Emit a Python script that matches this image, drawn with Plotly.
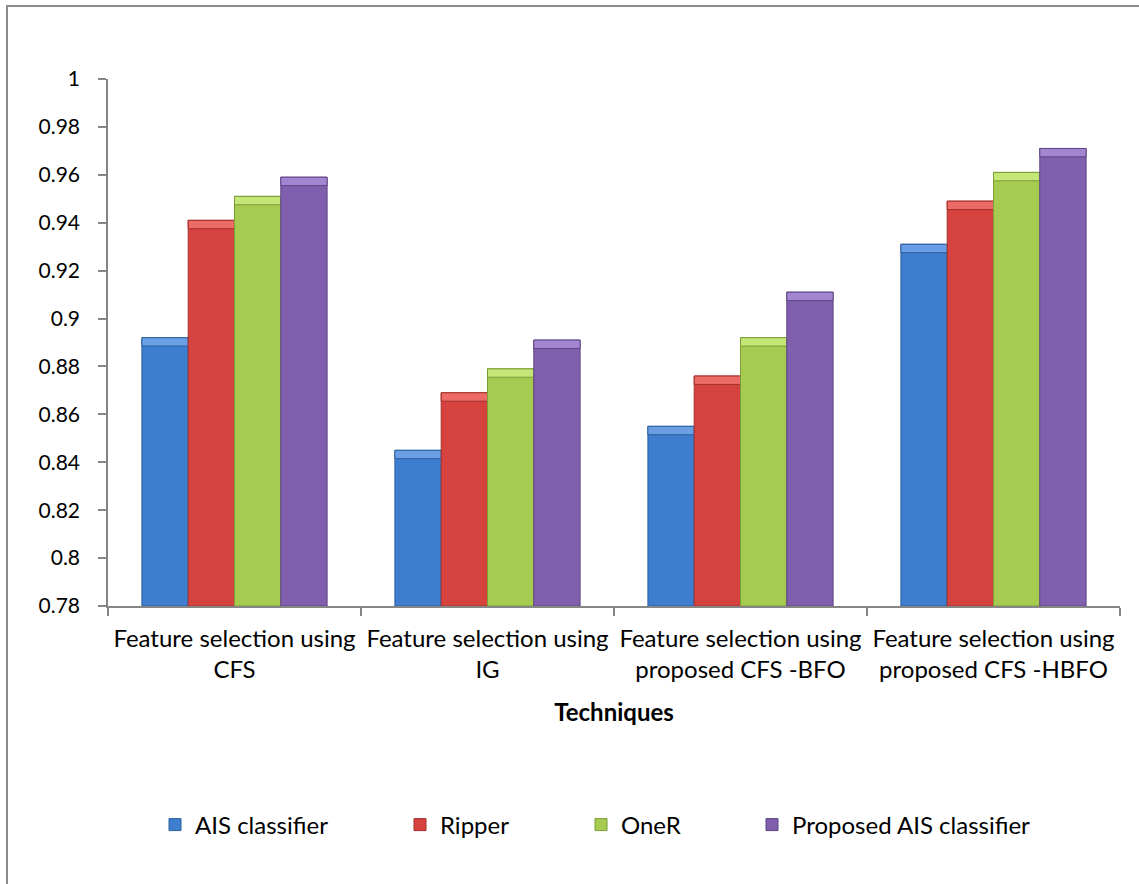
import plotly.graph_objects as go

# Categories (techniques) and accuracy per classifier
categories = [
    "Feature selection using<br>CFS",
    "Feature selection using<br>IG",
    "Feature selection using<br>proposed CFS -BFO",
    "Feature selection using<br>proposed CFS -HBFO",
]
series_names = ["AIS classifier", "Ripper", "OneR", "Proposed AIS classifier"]
ais_classifier = [0.892, 0.845, 0.855, 0.931]
ripper = [0.941, 0.869, 0.876, 0.949]
oner = [0.951, 0.879, 0.892, 0.961]
proposed_ais = [0.959, 0.891, 0.911, 0.971]
y_ticks = [0.78, 0.8, 0.82, 0.84, 0.86, 0.88, 0.9, 0.92, 0.94, 0.96, 0.98, 1]
y_tick_text = ["0.78", "0.8", "0.82", "0.84", "0.86", "0.88", "0.9", "0.92", "0.94", "0.96", "0.98", "1"]

series_values = [ais_classifier, ripper, oner, proposed_ais]
body_colors = ["#3d7ecf", "#d6423e", "#a5cc50", "#7f5fae"]
edge_colors = ["#2c5f9e", "#a3302d", "#7c9c36", "#5e4584"]
top_colors = ["#6a9fe6", "#ec6b66", "#c4e778", "#a386d2"]

W, H = 1139, 884
L, R, T, B = 108, 19, 79, 278
plot_w, plot_h = W - L - R, H - T - B

def px_to_paper_x(px):
    return (px - L) / plot_w

def px_to_paper_y(py):
    return (H - B - py) / plot_h

bar_w = 0.183
offsets = [-2 * bar_w, -bar_w, 0.0, bar_w]
y_min = 0.78
strip = 0.0035

fig = go.Figure()
legend_ids = ["legend", "legend2", "legend3", "legend4"]
for i, (name, vals) in enumerate(zip(series_names, series_values)):
    fig.add_trace(go.Bar(
        x=categories, y=[v - y_min for v in vals], base=y_min,
        name=name, width=bar_w, offset=offsets[i],
        marker=dict(color=body_colors[i], line=dict(color=edge_colors[i], width=1)),
        legend=legend_ids[i],
    ))
    # lighter bevel strip along the top of each bar
    fig.add_trace(go.Bar(
        x=categories, y=[strip] * len(vals), base=[v - strip for v in vals],
        width=bar_w, offset=offsets[i], showlegend=False, hoverinfo="skip",
        marker=dict(color=top_colors[i], line=dict(color=edge_colors[i], width=1)),
    ))

axis_gray = "#868686"
fig.update_layout(
    width=W, height=H,
    margin=dict(l=L, r=R, t=T, b=B),
    barmode="overlay",
    paper_bgcolor="white", plot_bgcolor="white",
    font=dict(family="Lato, Open Sans, sans-serif", color="#000000"),
    xaxis=dict(
        type="category", showline=True, linecolor=axis_gray, linewidth=1.5,
        ticks="outside", tickson="boundaries", ticklen=8, tickcolor=axis_gray,
        tickwidth=1.5, showgrid=False, tickfont=dict(size=24),
        tickangle=0, automargin=False, ticklabelstandoff=10,
        title=dict(text="<b>Techniques</b>", font=dict(size=24), standoff=22),
    ),
    yaxis=dict(
        range=[0.78, 1.0], tickvals=y_ticks, ticktext=y_tick_text,
        showline=True, linecolor=axis_gray, linewidth=1.5,
        ticks="outside", ticklen=8, tickcolor=axis_gray, tickwidth=1.5,
        showgrid=False, zeroline=False, tickfont=dict(size=21),
        automargin=False, ticklabelstandoff=14,
    ),
    shapes=[dict(
        type="rect", xref="paper", yref="paper",
        x0=px_to_paper_x(7), x1=px_to_paper_x(W + 10),
        y0=px_to_paper_y(H + 10), y1=px_to_paper_y(6),
        line=dict(color="#8c8c8c", width=2), fillcolor="rgba(0,0,0,0)", layer="below",
    )],
)

legend_px = [155, 400, 581, 752]
for lid, px in zip(legend_ids, legend_px):
    fig.update_layout({lid: dict(
        x=px_to_paper_x(px), xanchor="left",
        y=px_to_paper_y(825), yanchor="middle",
        orientation="h", font=dict(size=24), bgcolor="rgba(0,0,0,0)",
        itemwidth=30,
    )})

fig.write_html("out.html")
